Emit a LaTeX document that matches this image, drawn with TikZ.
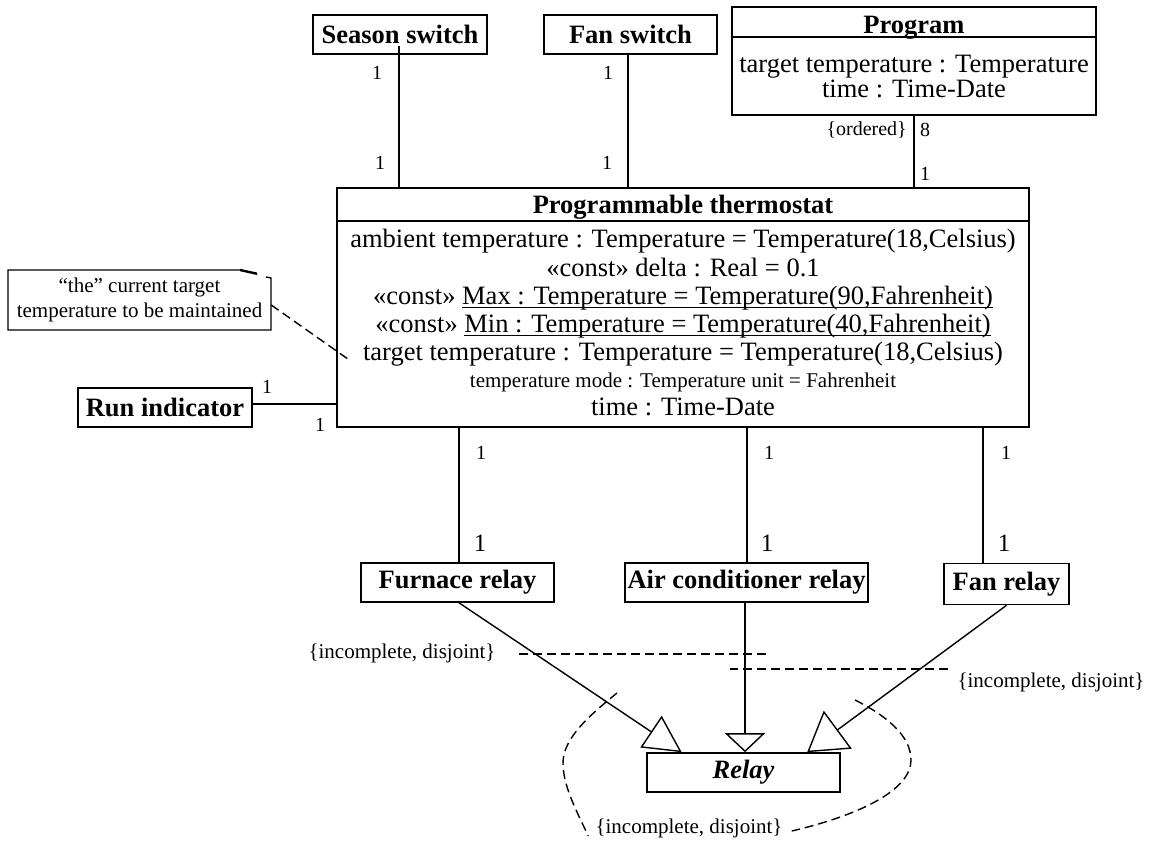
\documentclass[tikz,border=0pt]{standalone}
\usepackage{fontspec}
\setmainfont{Liberation Serif}
\usetikzlibrary{arrows.meta,calc}

% underline with a rule of fixed thickness
\newcommand\undl[1]{\setbox0\hbox{#1}\rlap{\rule[-4pt]{\wd0}{1.5pt}}\box0}

\tikzset{
  big/.style={font=\fontsize{26.5}{29}\selectfont},
  small/.style={font=\fontsize{21}{25}\selectfont},
  cls/.style={draw, line width=1.6pt, inner sep=0pt, font=\fontsize{26.5}{29}\selectfont\bfseries},
  attr/.style={big, inner sep=0pt, anchor=base},
  mult/.style={font=\fontsize{20}{22}\selectfont, inner sep=0pt},
  multbig/.style={font=\fontsize{25}{27}\selectfont, inner sep=0pt},
  cons/.style={small, inner sep=0pt},
  assoc/.style={line width=1.4pt},
  dashline/.style={line width=1.4pt, dash pattern=on 9pt off 5pt},
  gen/.style 2 args={line width=1.4pt, -{Triangle[open, length=#1pt, width=#2pt, line width=1.4pt]}},
}

\begin{document}
\begin{tikzpicture}[x=1pt, y=-1pt]
\useasboundingbox (0,0) rectangle (1151,841);

% ---------- classes ----------
\node[cls, minimum width=174, minimum height=39] (season) at (400,34.5) {Season switch};
\node[cls, minimum width=173, minimum height=39] (fansw) at (630.5,34.5) {Fan switch};

\node[draw, line width=1.6pt, minimum width=364, minimum height=108, inner sep=0pt] (prog) at (914,61) {};
\draw[line width=1.6pt] ([yshift=-31pt]prog.north west) -- ([yshift=-31pt]prog.north east);
\node[attr, font=\fontsize{26.5}{29}\selectfont\bfseries] (progname) at (914,33) {Program};
\node[attr] (progtt) at (914,72) {target temperature : Temperature};
\node[attr] (progtime) at (914,97) {time : Time-Date};

\node[draw, line width=1.6pt, minimum width=692, minimum height=239, inner sep=0pt] (thermo) at (683,307.5) {};
\draw[line width=1.6pt] ([yshift=-34pt]thermo.north west) -- ([yshift=-34pt]thermo.north east);
\node[attr, font=\fontsize{26.5}{29}\selectfont\bfseries] (thname) at (683,213) {Programmable thermostat};
\node[attr] (amb) at (683,247) {ambient temperature : Temperature = Temperature(18,Celsius)};
\node[attr] (delta) at (683,276) {«const» delta : Real = 0.1};
\node[attr] (max) at (683,304) {«const» \undl{Max : Temperature = Temperature(90,Fahrenheit)}};
\node[attr] (min) at (683,332) {«const» \undl{Min : Temperature = Temperature(40,Fahrenheit)}};
\node[attr] (tgt) at (683,360) {target temperature : Temperature = Temperature(18,Celsius)};
\node[attr, small] (mode) at (683,387) {temperature mode : Temperature unit = Fahrenheit};
\node[attr] (time) at (683,415) {time : Time-Date};

\node[cls, minimum width=174, minimum height=39] (run) at (165,407.5) {Run indicator};

\node[cls, minimum width=193, minimum height=39] (furnace) at (457.5,582.5) {Furnace relay};
\node[cls, minimum width=243, minimum height=39] (ac) at (746.5,582.5) {Air conditioner relay};
\node[cls, minimum width=125, minimum height=41] (fanr) at (1006.5,584) {Fan relay};
\node[cls, minimum width=193, minimum height=39, font=\fontsize{26.5}{29}\selectfont\bfseries\itshape] (relay) at (743.5,772.5) {Relay};

% ---------- note ----------
\node[small, align=center, minimum width=263, minimum height=60, inner sep=0pt] (note) at (139.5,300)
  {“the” current target\\temperature to be maintained};
\draw[line width=1.4pt] (240,270) -- (8,270) -- (8,330) -- (271,330) -- (271,278) -- (266,277);
\fill (240,268.8) -- (257,272.5) -- (257,275) -- (240,271.2) -- cycle;
\draw[dashline] ([yshift=-5pt]note.east) -- ([shift={(-14pt,-6pt)}]tgt.west);

% ---------- associations ----------
\draw[assoc] ([shift={(-1pt,-11.5pt)}]season.center) -- ([xshift=-1pt]season.center |- thermo.north);
\draw[assoc] ([xshift=-2.5pt]fansw.south) -- ([xshift=-2.5pt]fansw.south |- thermo.north);
\draw[assoc] (prog.south) -- (prog.south |- thermo.north);
\draw[assoc] ([yshift=3.5pt]run.east) -- ([yshift=3.5pt]run.east -| thermo.west);
\draw[assoc] ([xshift=1.5pt]furnace.north |- thermo.south) -- ([xshift=1.5pt]furnace.north);
\draw[assoc] ([xshift=0.5pt]ac.north |- thermo.south) -- ([xshift=0.5pt]ac.north);
\draw[assoc] ([shift={(-23.5pt,2pt)}]fanr.north |- thermo.south) -- ([xshift=-23.5pt]fanr.north);

% multiplicities
\node[mult] (m1) at (377,73) {1};
\node[mult] (m2) at (380,163) {1};
\node[mult] (m3) at (608,73) {1};
\node[mult] (m4) at (607,163) {1};
\node[mult, anchor=east] (m5) at (907,130) {\{ordered\}};
\node[mult] (m6) at (925,130) {8};
\node[mult] (m7) at (925,174) {1};
\node[mult] (m8) at (267,387) {1};
\node[mult] (m9) at (320,425) {1};
\node[mult] (m10) at (481,453) {1};
\node[mult] (m11) at (769,453) {1};
\node[mult] (m12) at (1006,453) {1};
\node[multbig] (m13) at (480,543) {1};
\node[multbig] (m14) at (767,543) {1};
\node[multbig] (m15) at (1004,543) {1};

% ---------- generalizations ----------
\draw[gen={37}{38}] ([xshift=1.5pt]furnace.south) -- ([xshift=35.5pt]relay.north west);
\draw[gen={19}{40}] ([xshift=-1.5pt]ac.south) -- ([xshift=1.5pt]relay.north);
\draw[gen={38}{47}] (fanr.south) -- ([xshift=161pt]relay.north west);

% ---------- constraints ----------
\node[cons] (c1) at (402,653) {\{incomplete, disjoint\}};
\node[cons] (c2) at (1051,682) {\{incomplete, disjoint\}};
\node[cons] (c3) at (689,828) {\{incomplete, disjoint\}};
\draw[dashline] ([shift={(23pt,-1pt)}]c1.east) -- ++(250,0);
\draw[dashline] ([shift={(-9pt,13pt)}]c2.west) -- ++(-218,0);
\draw[dashline] (617,693) .. controls (590,715) and (563,738) .. (563,763)
                .. controls (563,785) and (575,808) .. ([shift={(-7pt,-8pt)}]c3.west);
\draw[dashline] (855,700) .. controls (885,715) and (911,735) .. (911,760)
                .. controls (911,790) and (860,815) .. ([shift={(9pt,-3pt)}]c3.east);

\end{tikzpicture}
\end{document}
